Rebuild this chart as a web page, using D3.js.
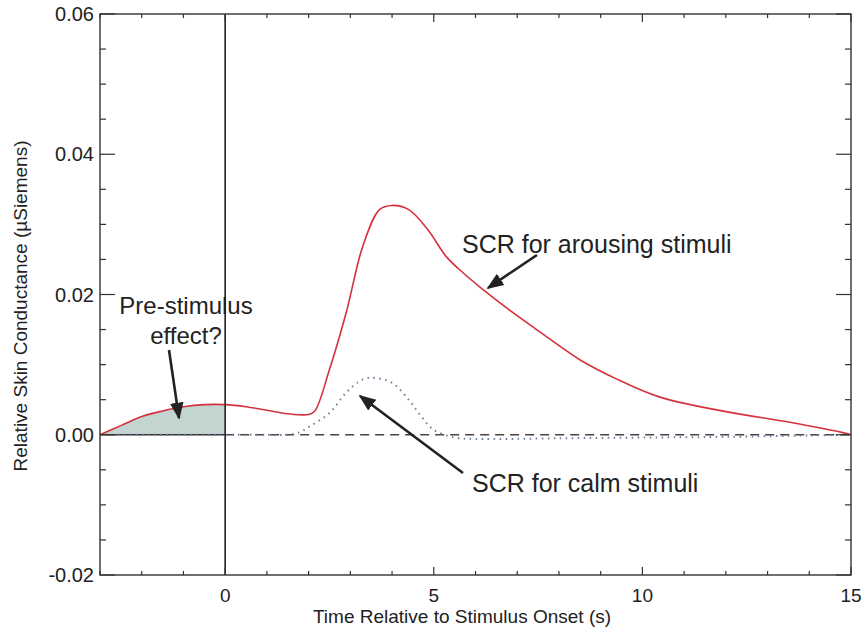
<!DOCTYPE html>
<html><head><meta charset="utf-8">
<script src="https://cdn.jsdelivr.net/npm/d3@7"></script>
<style>body{margin:0;background:#fff;} text{font-family:"Liberation Sans",Arial,sans-serif;fill:#222;}</style>
</head><body>
<svg id="c" width="865" height="627"></svg>
<script>
const arousingT = [-3,-2.5,-2,-1.5,-1,-0.5,0,0.5,1,1.5,2,2.15,2.5,2.9,3.3,3.7,4.0,4.4,4.85,5.3,5.7,6.1,6.9,7.7,8.5,9.4,10.4,12,13.6,14.8,15];
const arousingV = [0,0.0013,0.0026,0.0034,0.0040,0.0043,0.0043,0.0040,0.0035,0.0030,0.0029,0.0034,0.0093,0.0174,0.0269,0.0321,0.0327,0.0321,0.0293,0.0254,0.0231,0.0211,0.0174,0.0140,0.0107,0.0079,0.0054,0.0033,0.0017,0.0003,0];
const calmT = [-3,-1,0,1,1.5,1.8,2.0,2.5,2.9,3.3,3.6,4.0,4.4,4.7,5.0,5.5,6,8,10,12,14,15];
const calmV = [0,0,0,0,0,0.0004,0.0011,0.0031,0.0060,0.0079,0.0081,0.0074,0.0050,0.0026,0.0007,-0.0004,-0.0006,-0.0005,-0.0004,-0.0003,-0.0001,0];
const xTicks = [0,5,10,15];
const yTicks = [-0.02,0,0.02,0.04,0.06];
const xLabel = "Time Relative to Stimulus Onset (s)";
const yLabel = "Relative Skin Conductance (µSiemens)";

const L=100,R=851,T=14,B=575;
const svg=d3.select("#c");
const x=d3.scaleLinear().domain([-3,15]).range([L,R]);
const y=d3.scaleLinear().domain([-0.02,0.06]).range([B,T]);
const arousing=arousingT.map((t,i)=>({t,v:arousingV[i]}));
const calm=calmT.map((t,i)=>({t,v:calmV[i]}));
const curve=d3.curveCatmullRom.alpha(0.5);

// pre-stimulus fill
const pre=arousing.filter(d=>d.t<=0);
svg.append("path").datum(pre)
  .attr("d",d3.area().x(d=>x(d.t)).y0(y(0)).y1(d=>y(d.v)).curve(curve))
  .attr("fill","#c2d5d0");

// baseline
svg.append("line").attr("x1",x(-3)).attr("x2",x(0)).attr("y1",y(0)).attr("y2",y(0)).attr("stroke","#333").attr("stroke-width",1.5);
svg.append("line").attr("x1",x(0)).attr("x2",x(15)).attr("y1",y(0)).attr("y2",y(0))
  .attr("stroke","#444").attr("stroke-width",1.3).attr("stroke-dasharray","9,6");

// calm
svg.append("path").datum(calm)
  .attr("d",d3.line().x(d=>x(d.t)).y(d=>y(d.v)).curve(curve))
  .attr("fill","none").attr("stroke","#6f7f95").attr("stroke-width",2).attr("stroke-dasharray","1.5,4.5");

// arousing
svg.append("path").datum(arousing)
  .attr("d",d3.line().x(d=>x(d.t)).y(d=>y(d.v)).curve(curve))
  .attr("fill","none").attr("stroke","#d4323c").attr("stroke-width",1.6);

// zero vertical line
svg.append("line").attr("x1",x(0)).attr("x2",x(0)).attr("y1",T).attr("y2",B).attr("stroke","#222").attr("stroke-width",1.6);

// frame
svg.append("rect").attr("x",L).attr("y",T).attr("width",R-L).attr("height",B-T).attr("fill","none").attr("stroke","#333").attr("stroke-width",1.4);

// axes ticks
const g=svg.append("g");
const xMinor=d3.range(-3,15.01,1);
xMinor.forEach(t=>{
  const major=xTicks.includes(t);
  const len=major?8:4;
  g.append("line").attr("x1",x(t)).attr("x2",x(t)).attr("y1",B).attr("y2",B-len).attr("stroke","#333").attr("stroke-width",1.2);
  g.append("line").attr("x1",x(t)).attr("x2",x(t)).attr("y1",T).attr("y2",T+len).attr("stroke","#333").attr("stroke-width",1.2);
});
const yMinor=d3.range(-0.02,0.0601,0.005);
yMinor.forEach(v=>{
  const major=yTicks.some(m=>Math.abs(m-v)<1e-9);
  const len=major?15:6;
  g.append("line").attr("x1",L).attr("x2",L+len).attr("y1",y(v)).attr("y2",y(v)).attr("stroke","#333").attr("stroke-width",1.2);
  g.append("line").attr("x1",R).attr("x2",R-len).attr("y1",y(v)).attr("y2",y(v)).attr("stroke","#333").attr("stroke-width",1.2);
});
xTicks.forEach(t=>{
  g.append("text").attr("x",x(t)).attr("y",B+27).attr("text-anchor","middle").attr("font-size",19).text(String(t));
});
yTicks.forEach(v=>{
  g.append("text").attr("x",L-6).attr("y",y(v)+7).attr("text-anchor","end").attr("font-size",20).text(v.toFixed(2));
});
svg.append("text").attr("x",462).attr("y",623).attr("text-anchor","middle").attr("font-size",19).text(xLabel);
svg.append("text").attr("transform",`translate(27,${306}) rotate(-90)`).attr("text-anchor","middle").attr("font-size",19).text(yLabel);

// annotations
svg.append("defs").append("marker").attr("id","ah").attr("viewBox","0 0 10 10").attr("refX",9).attr("refY",5)
  .attr("markerWidth",17).attr("markerHeight",17).attr("orient","auto").attr("markerUnits","userSpaceOnUse")
  .append("path").attr("d","M0,1 L10,5 L0,9 Z").attr("fill","#222");
function arrow(x1,y1,x2,y2){svg.append("line").attr("x1",x1).attr("y1",y1).attr("x2",x2).attr("y2",y2).attr("stroke","#222").attr("stroke-width",2.6).attr("marker-end","url(#ah)");}
arrow(169,350,179,418);
arrow(537,255,488,288);
arrow(463,473,360,396);
svg.append("text").attr("x",186).attr("y",314).attr("text-anchor","middle").attr("font-size",24).text("Pre-stimulus");
svg.append("text").attr("x",186).attr("y",344).attr("text-anchor","middle").attr("font-size",24).text("effect?");
svg.append("text").attr("x",462).attr("y",253).attr("font-size",25).text("SCR for arousing stimuli");
svg.append("text").attr("x",472).attr("y",492).attr("font-size",25).text("SCR for calm stimuli");
</script>
</body></html>
